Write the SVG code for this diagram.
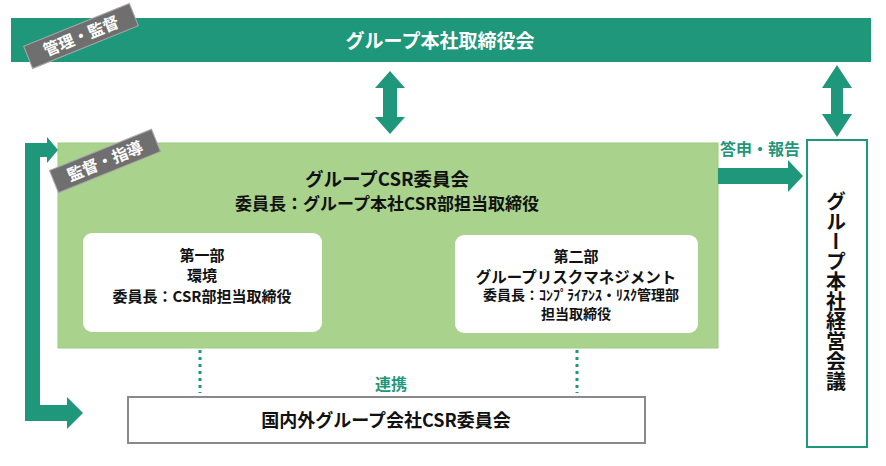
<svg xmlns="http://www.w3.org/2000/svg" width="886" height="466" viewBox="0 0 886 466">
<style>
text{font-family:"Noto Sans CJK JP","Noto Sans",sans-serif;font-weight:bold;}
.teal{fill:#1f977a;}
.c{text-anchor:middle;}
.blk{fill:#111;}
.wht{fill:#fff;}
.tag rect{fill:#6f6f6f;stroke:#a8a8a8;stroke-width:1;}
.dot{stroke:#1f977a;stroke-width:3;stroke-dasharray:3 4;fill:none;}
</style>
<rect width="886" height="466" fill="#fff"/>

<g id="board">
<rect x="11" y="18" width="860" height="44" class="teal"/>
<text x="440" y="48" class="c wht" font-size="19">グループ本社取締役会</text>
</g>
<g id="tag-kanri" class="tag" transform="translate(81,36) rotate(-22)">
<rect x="-57" y="-12" width="114" height="24"/>
<text x="0" y="6" class="c wht" font-size="16" font-weight="normal">管理・監督</text>
</g>

<g id="committee">
<rect x="58" y="143" width="660" height="205" fill="#a9d28d" stroke="#9ccb80" stroke-width="1"/>
<text x="387" y="186" class="c blk" font-size="18.5">グループCSR委員会</text>
<text x="387" y="210" class="c blk" font-size="17">委員長：グループ本社CSR部担当取締役</text>
</g>
<g id="dept1">
<rect x="83" y="233" width="239" height="99" rx="9" fill="#fff"/>
<text x="202" y="261" class="c blk" font-size="15">第一部</text>
<text x="202" y="281" class="c blk" font-size="15">環境</text>
<text x="202" y="302" class="c blk" font-size="15">委員長：CSR部担当取締役</text>
</g>
<g id="dept2">
<rect x="455" y="235" width="243" height="98" rx="9" fill="#fff"/>
<text x="576" y="262" class="c blk" font-size="15">第二部</text>
<text x="576" y="283" class="c blk" font-size="15.5">グループリスクマネジメント</text>
<text x="581" y="300" class="c blk" font-size="14">委員長：ｺﾝﾌﾟﾗｲｱﾝｽ・ﾘｽｸ管理部</text>
<text x="576" y="319" class="c blk" font-size="14">担当取締役</text>
</g>
<g id="tag-kantoku" class="tag" transform="translate(105,161) rotate(-22)">
<rect x="-55" y="-12" width="110" height="24"/>
<text x="0" y="6" class="c wht" font-size="16" font-weight="normal">監督・指導</text>
</g>

<g id="management">
<rect x="807" y="140" width="60" height="307" fill="#fff" stroke="#1f977a" stroke-width="2"/>
<text x="836" y="191" class="blk" font-size="20" writing-mode="vertical-rl">グループ本社経営会議</text>
</g>

<g id="overseas">
<rect x="128" y="397" width="517" height="46" fill="#fff" stroke="#8a8a8a" stroke-width="2"/>
<text x="386" y="427" class="c blk" font-size="18">国内外グループ会社CSR委員会</text>
</g>

<g id="connectors">
<path class="teal" d="M390,71 L405,88 H397 V117 H405 L390,134 L375,117 H383 V88 H375 Z"/>
<path class="teal" d="M837,65 L852,88 H843 V114 H852 L837,137 L822,114 H831 V88 H822 Z"/>
<path class="teal" d="M718,168 H788 V160 L803,176 L788,192 V184 H718 Z"/>
<text x="760" y="155" class="c teal" font-size="16">答申・報告</text>
<path class="teal" d="M25,143 H47 V137 L58,150 L47,163 V157 H40 V405 H67 V397 L83,413 L67,429 V421 H25 Z"/>
<line class="dot" x1="200" y1="350" x2="200" y2="393"/>
<line class="dot" x1="577" y1="350" x2="577" y2="393"/>
<text x="391" y="390" class="c teal" font-size="16">連携</text>
</g>
</svg>
